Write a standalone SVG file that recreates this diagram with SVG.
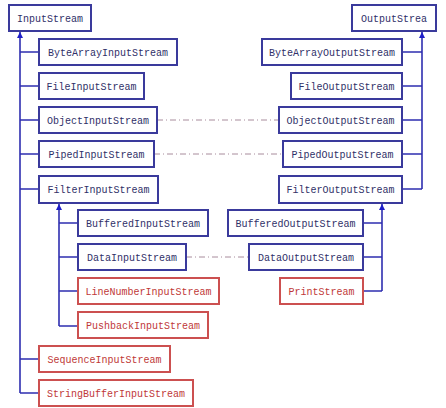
<svg xmlns="http://www.w3.org/2000/svg" width="446" height="408" viewBox="0 0 446 408">
<defs>
<style>
.b rect{fill:#fff;stroke:#3a3a9c;stroke-width:2}
.r rect{fill:#fff;stroke:#cc5050;stroke-width:2}
text{font-family:"Liberation Mono","DejaVu Sans Mono",monospace;font-size:10px}
.b text{fill:#303068}
.r text{fill:#c03838}
.ln{stroke:#2e2eb0;stroke-width:1.6;fill:none}
.dd{stroke:#a88c9c;stroke-width:1;fill:none;stroke-dasharray:6 3 1 3}
</style>
<marker id="ar" viewBox="0 0 8 8" refX="8" refY="4" markerWidth="6" markerHeight="6" orient="auto-start-reverse" markerUnits="userSpaceOnUse">
<path d="M0 0 L8 4 L0 8 Z" fill="#1e1ec8"/>
</marker>
</defs>
<rect width="446" height="408" fill="#fff"/>
<g id="connectors">
<path class="ln" d="M20 32 V393" marker-start="url(#ar)"/>
<path class="ln" d="M20 52 H39 M20 86 H39 M20 120 H39 M20 154 H39 M20 189 H39 M20 359 H39 M20 393 H39"/>
<path class="ln" d="M59 204 V326" marker-start="url(#ar)"/>
<path class="ln" d="M59 223 H78 M59 257 H78 M59 291 H78 M59 326 H78"/>
<path class="ln" d="M422 32 V189" marker-start="url(#ar)"/>
<path class="ln" d="M402 52 H422 M402 86 H422 M402 120 H422 M402 154 H422 M402 189 H422"/>
<path class="ln" d="M382 204 V291" marker-start="url(#ar)"/>
<path class="ln" d="M363 223 H382 M363 257 H382 M363 291 H382"/>
<path class="dd" d="M157 120 H279 M154 154 H283 M186 257 H249"/>
</g>
<g id="InputStream" class="b"><rect x="9" y="5" width="82" height="26"/><text x="50" y="22" text-anchor="middle">InputStream</text></g>
<g id="ByteArrayInputStream" class="b"><rect x="39" y="39" width="138" height="26"/><text x="108" y="56" text-anchor="middle">ByteArrayInputStream</text></g>
<g id="FileInputStream" class="b"><rect x="39" y="73" width="105" height="26"/><text x="91.5" y="90" text-anchor="middle">FileInputStream</text></g>
<g id="ObjectInputStream" class="b"><rect x="39" y="107" width="118" height="26"/><text x="98" y="124" text-anchor="middle">ObjectInputStream</text></g>
<g id="PipedInputStream" class="b"><rect x="39" y="141" width="115" height="26"/><text x="96.5" y="158" text-anchor="middle">PipedInputStream</text></g>
<g id="FilterInputStream" class="b"><rect x="39" y="176" width="119" height="27"/><text x="98.5" y="193" text-anchor="middle">FilterInputStream</text></g>
<g id="BufferedInputStream" class="b"><rect x="78" y="210" width="130" height="26"/><text x="143" y="227" text-anchor="middle">BufferedInputStream</text></g>
<g id="DataInputStream" class="b"><rect x="78" y="244" width="108" height="26"/><text x="132" y="261" text-anchor="middle">DataInputStream</text></g>
<g id="LineNumberInputStream" class="r"><rect x="78" y="278" width="141" height="26"/><text x="148.5" y="295" text-anchor="middle">LineNumberInputStream</text></g>
<g id="PushbackInputStream" class="r"><rect x="78" y="312" width="130" height="26"/><text x="143" y="329" text-anchor="middle">PushbackInputStream</text></g>
<g id="SequenceInputStream" class="r"><rect x="39" y="346" width="131" height="26"/><text x="104.5" y="363" text-anchor="middle">SequenceInputStream</text></g>
<g id="StringBufferInputStream" class="r"><rect x="39" y="380" width="154" height="26"/><text x="116" y="397" text-anchor="middle">StringBufferInputStream</text></g>
<g id="OutputStream" class="b"><rect x="352" y="5" width="84" height="26"/><text x="394" y="22" text-anchor="middle">OutputStrea</text></g>
<g id="ByteArrayOutputStream" class="b"><rect x="262" y="39" width="140" height="26"/><text x="332" y="56" text-anchor="middle">ByteArrayOutputStream</text></g>
<g id="FileOutputStream" class="b"><rect x="291" y="73" width="111" height="26"/><text x="346.5" y="90" text-anchor="middle">FileOutputStream</text></g>
<g id="ObjectOutputStream" class="b"><rect x="279" y="107" width="123" height="26"/><text x="340.5" y="124" text-anchor="middle">ObjectOutputStream</text></g>
<g id="PipedOutputStream" class="b"><rect x="283" y="141" width="119" height="26"/><text x="342.5" y="158" text-anchor="middle">PipedOutputStream</text></g>
<g id="FilterOutputStream" class="b"><rect x="279" y="176" width="123" height="27"/><text x="340.5" y="193" text-anchor="middle">FilterOutputStream</text></g>
<g id="BufferedOutputStream" class="b"><rect x="228" y="210" width="135" height="26"/><text x="295.5" y="227" text-anchor="middle">BufferedOutputStream</text></g>
<g id="DataOutputStream" class="b"><rect x="249" y="244" width="114" height="26"/><text x="306" y="261" text-anchor="middle">DataOutputStream</text></g>
<g id="PrintStream" class="r"><rect x="280" y="278" width="83" height="26"/><text x="321.5" y="295" text-anchor="middle">PrintStream</text></g>
</svg>
